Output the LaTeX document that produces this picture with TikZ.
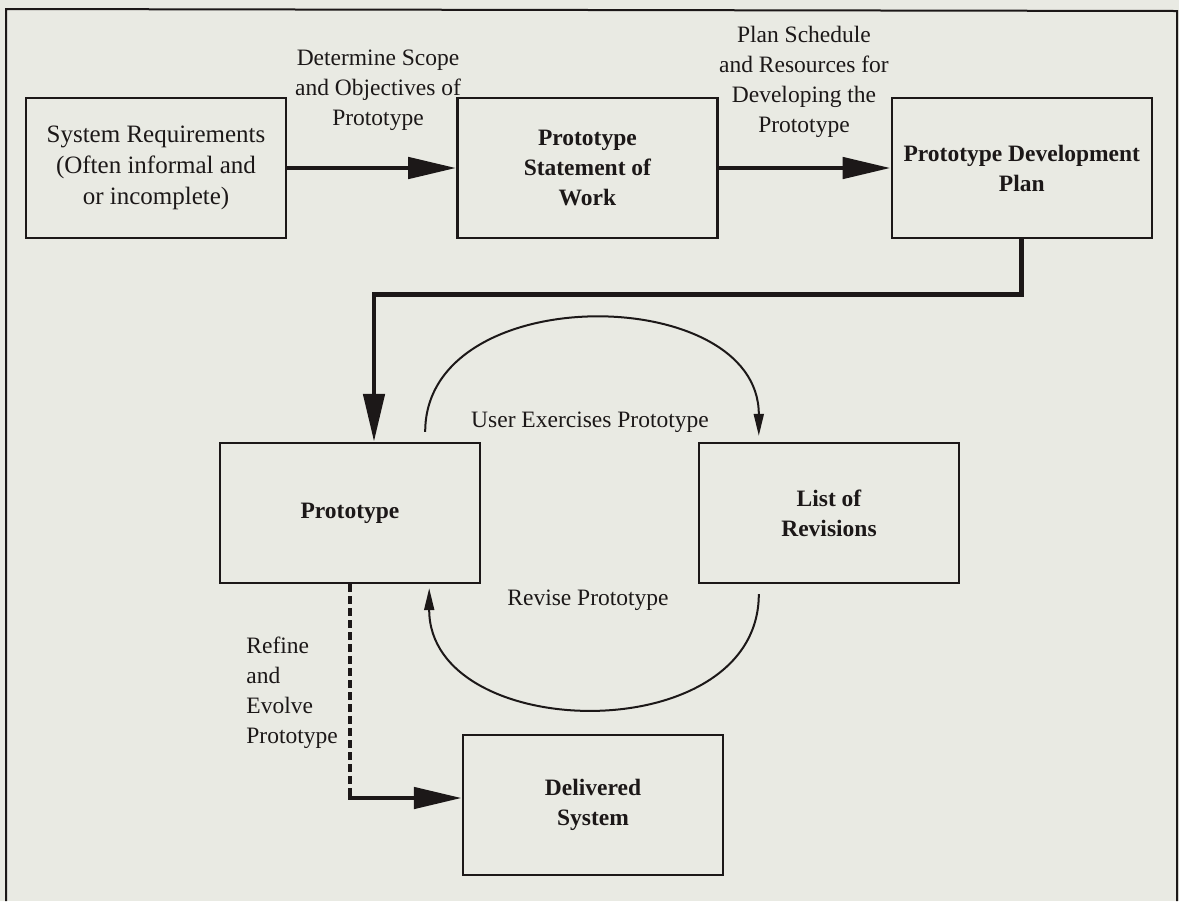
\documentclass[tikz,border=0pt]{standalone}
\usepackage{fontspec}
\setmainfont{Liberation Serif}
\usetikzlibrary{arrows.meta, positioning}
\definecolor{cInk}{RGB}{28,24,24}
\definecolor{cPaper}{RGB}{233,234,227}
\newcommand{\diagfont}{\fontsize{11.75}{15}\selectfont}
\tikzset{
	box/.style   ={rectangle, draw=cInk, line width=1.2pt, minimum width=130pt, minimum height=70pt, align=center, font=\diagfont\bfseries},
	lbl/.style   ={align=center, inner sep=0pt, font=\diagfont},
	flow/.style  ={-{Triangle[length=24pt, width=10.5pt]}, line width=2.4pt, draw=cInk},
	cyc/.style   ={-{Triangle[length=11pt, width=5pt]}, line width=1pt, draw=cInk},
	evolve/.style={dash pattern=on 4pt off 2pt, line width=1.6pt, draw=cInk},
}
\begin{document}
\begin{tikzpicture}[x=0.5pt, y=-0.5pt, text=cInk]
	\useasboundingbox[fill=cPaper] (0,0) rectangle (1179,901);
	\draw[cInk, line width=1pt] (6,901) -- (6,9) -- (1177,11) -- (1177,901);
	% top row
	\node[box, font=\fontsize{12.5}{15.5}\selectfont] (sr) at (156,168) {System Requirements\\(Often informal and\\or incomplete)};
	\node[box, right=84.5pt of sr] (psw) {Prototype\\Statement of\\Work};
	\node[box, right=86pt of psw] (pdp) {Prototype Development\\Plan};
	% prototyping cycle
	\node[box] (proto) at (350,513) {Prototype};
	\node[box] (list) at (829,513) {List of\\Revisions};
	\node[box] (deliv) at (593,805) {Delivered\\System};
	% labels
	\node[lbl] (scope) at (378,90) {Determine Scope\\and Objectives of\\Prototype};
	\node[lbl] (plan) at (804,82) {Plan Schedule\\and Resources for\\Developing the\\Prototype};
	\node[lbl] (exer) at (590,422) {User Exercises Prototype};
	\node[lbl] (revise) at (588,600) {Revise Prototype};
	\node[lbl, align=left, anchor=west] (refine) at (246,693) {Refine\\and\\Evolve\\Prototype};
	% connectors
	\draw[flow] (sr) -- (psw);
	\draw[flow] (psw) -- (pdp);
	\draw[flow] (pdp.south) -- ++(0,55) -| ([xshift=12pt]proto.north);
	\draw[cyc] ([xshift=-28pt,yshift=5pt]proto.north east) .. controls +(0,-153) and +(0,-153) .. ([xshift=30.5pt,yshift=3pt]list.north west);
	\draw[cyc] ([xshift=30.5pt,yshift=-5pt]list.south west) .. controls +(0,156) and +(0,156) .. ([xshift=-26pt,yshift=-2pt]proto.south east);
	\draw[evolve] (proto.south) -- ++(0,204) coordinate (bend);
	\draw[flow] (bend) |- ([yshift=3.5pt]deliv.west);
\end{tikzpicture}
\end{document}
